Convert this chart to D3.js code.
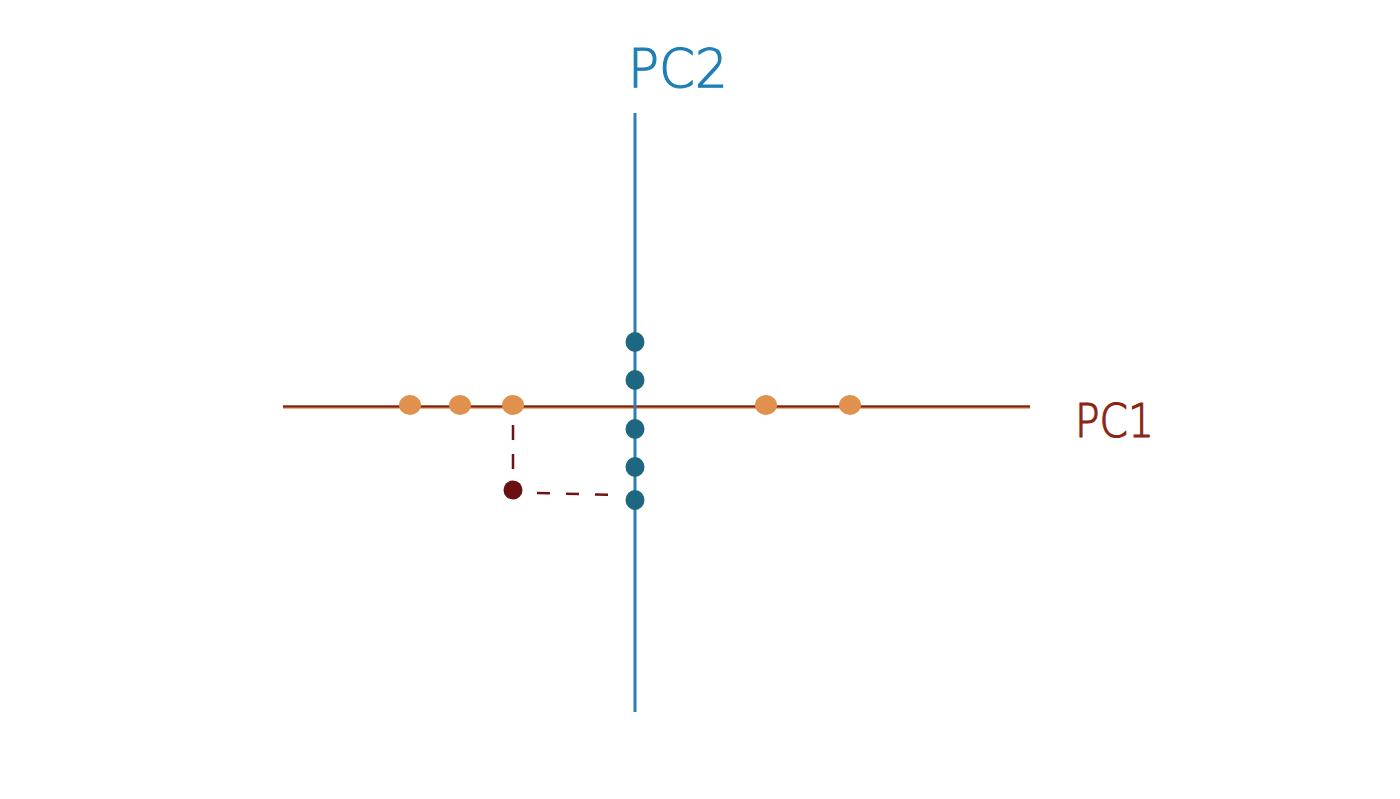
<!DOCTYPE html>
<html><head><meta charset="utf-8">
<script src="https://cdn.jsdelivr.net/npm/d3@7"></script>
<style>html,body{margin:0;padding:0;background:#fff;}</style>
</head><body>
<svg id="chart" width="1400" height="799"></svg>
<script>
// Data (PC units)
const pc1Extent = [-7.04, 7.9];
const pc2Extent = [-6.1, 5.88];
const pc1Scores = [-4.5, -3.5, -2.44, 2.62, 4.3];
const pc2Scores = [1.3, 0.54, -0.44, -1.2, -1.86];
const sample = [{pc1: -2.44, pc2: -1.66}];
const axisLabels = ["PC1", "PC2"];

const svg = d3.select("#chart");
const x = d3.scaleLinear().domain([-1, 1]).range([585, 685]);
const y = d3.scaleLinear().domain([-1, 1]).range([457, 357]);

// dashed projection lines
const s = sample[0];
svg.append("line").attr("x1", x(s.pc1)).attr("x2", x(s.pc1))
  .attr("y1", y(0) + 18).attr("y2", y(s.pc2) - 20)
  .attr("stroke", "#6e1412").attr("stroke-width", 2.5).attr("stroke-dasharray", "15,14");
svg.append("line").attr("x1", x(s.pc1) + 24).attr("x2", x(0) - 20)
  .attr("y1", y(s.pc2) + 3).attr("y2", y(s.pc2) + 5)
  .attr("stroke", "#6e1412").attr("stroke-width", 2.5).attr("stroke-dasharray", "13,16");

// PC1 axis
svg.append("line").attr("x1", x(pc1Extent[0])).attr("x2", x(pc1Extent[1]))
  .attr("y1", y(0)).attr("y2", y(0))
  .attr("stroke", "#e29a60").attr("stroke-width", 3.5);
svg.append("line").attr("x1", x(pc1Extent[0])).attr("x2", x(pc1Extent[1]))
  .attr("y1", y(0) - 0.5).attr("y2", y(0) - 0.5)
  .attr("stroke", "#7e1c0c").attr("stroke-width", 2);

// PC2 axis
svg.append("line").attr("x1", x(0)).attr("x2", x(0))
  .attr("y1", y(pc2Extent[1])).attr("y2", y(pc2Extent[0]))
  .attr("stroke", "#2a80b4").attr("stroke-width", 3);

// orange points on PC1
svg.selectAll(".p1").data(pc1Scores).enter().append("ellipse")
  .attr("cx", d => x(d)).attr("cy", y(0) - 2)
  .attr("rx", 11).attr("ry", 10).attr("fill", "#e0914e");

// blue points on PC2
svg.selectAll(".p2").data(pc2Scores).enter().append("ellipse")
  .attr("cx", x(0)).attr("cy", d => y(d))
  .attr("rx", 9.5).attr("ry", 10).attr("fill", "#1d6780");

// sample point
svg.selectAll(".s").data(sample).enter().append("circle")
  .attr("cx", d => x(d.pc1)).attr("cy", d => y(d.pc2))
  .attr("r", 9.5).attr("fill", "#6a1012");

// labels
svg.append("text").attr("x", 0).attr("y", 0)
  .attr("transform", `translate(1075,437) scale(1.02,1.15)`)
  .attr("font-family", "DejaVu Sans").attr("font-weight", 200).attr("font-size", 40)
  .attr("fill", "#8a2410").attr("stroke", "#8a2410").attr("stroke-width", 1)
  .text(axisLabels[0]);
svg.append("text").attr("x", 0).attr("y", 0)
  .attr("transform", `translate(628,87) scale(1.17,1.2)`)
  .attr("font-family", "DejaVu Sans").attr("font-weight", 200).attr("font-size", 44)
  .attr("fill", "#1e7fb6").attr("stroke", "#1e7fb6").attr("stroke-width", 1)
  .text(axisLabels[1]);
</script>
</body></html>
